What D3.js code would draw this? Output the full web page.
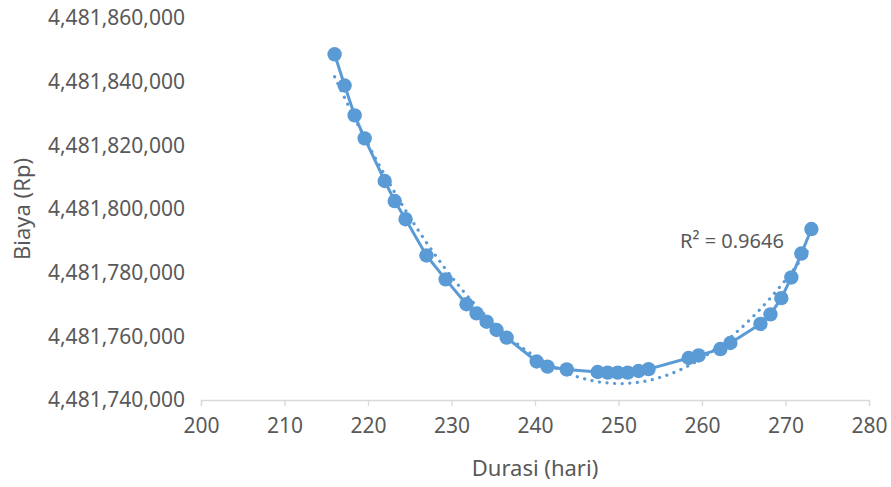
<!DOCTYPE html>
<html>
<head>
<meta charset="utf-8">
<script src="https://cdn.jsdelivr.net/npm/d3@7"></script>
<style>
  html, body { margin: 0; padding: 0; background: #fff; }
  text { font-family: "Noto Sans", "Open Sans", sans-serif; fill: #595959; }
</style>
</head>
<body>
<svg id="chart" width="891" height="487"></svg>
<script>
// ---- data ----
const durasi = [216.0, 217.2, 218.4, 219.6, 222.0, 223.2, 224.5, 227.0, 229.3, 231.8,
                233.0, 234.2, 235.4, 236.6, 240.2, 241.5, 243.8, 247.5, 248.7, 249.9,
                251.1, 252.4, 253.6, 258.4, 259.6, 262.2, 263.4, 267.0, 268.2, 269.5,
                270.7, 271.9, 273.1];
const biaya = [4481848600, 4481838800, 4481829400, 4481822200, 4481808800, 4481802500,
               4481796800, 4481785400, 4481777900, 4481770100, 4481767200, 4481764600,
               4481762000, 4481759600, 4481752100, 4481750500, 4481749600, 4481748800,
               4481748600, 4481748600, 4481748600, 4481749100, 4481749700, 4481753200,
               4481754000, 4481756000, 4481757900, 4481763900, 4481766900, 4481772000,
               4481778500, 4481786000, 4481793700];
const xTicks = [200, 210, 220, 230, 240, 250, 260, 270, 280];
const yTicks = [4481740000, 4481760000, 4481780000, 4481800000, 4481820000, 4481840000, 4481860000];
const xTitle = "Durasi (hari)";
const yTitle = "Biaya (Rp)";
const r2Label = "R² = 0.9646";

const W = 891, H = 487;
const margin = { left: 201, right: 22, top: 18, bottom: 87 };
const svg = d3.select("#chart");

const x = d3.scaleLinear().domain([200, 280]).range([margin.left, W - margin.right]);
const y = d3.scaleLinear().domain([4481740000, 4481860000]).range([H - margin.bottom, margin.top]);

const color = "#5B9BD5";
const fmt = d3.format(",");

// x axis
const xAxis = svg.append("g")
  .attr("transform", `translate(0,${H - margin.bottom})`)
  .call(d3.axisBottom(x).tickValues(xTicks).tickSize(6).tickPadding(12).tickFormat(d3.format("d")));
xAxis.select(".domain").attr("stroke", "#D9D9D9").attr("stroke-width", 1.3);
xAxis.selectAll(".tick line").attr("stroke", "#D9D9D9").attr("stroke-width", 1.3);
xAxis.selectAll(".tick text").attr("font-size", 21).attr("fill", "#595959")
  .style("font-family", '"Noto Sans", sans-serif');

// y axis (labels only)
const yAxis = svg.append("g")
  .attr("transform", `translate(${margin.left},0)`)
  .call(d3.axisLeft(y).tickValues(yTicks).tickSize(0).tickPadding(16).tickFormat(fmt));
yAxis.select(".domain").remove();
yAxis.selectAll(".tick text").attr("font-size", 21).attr("fill", "#595959")
  .style("font-family", '"Noto Sans", sans-serif');

// titles
svg.append("text").attr("x", (margin.left + W - margin.right) / 2).attr("y", 476)
  .attr("text-anchor", "middle").attr("font-size", 22).text(xTitle);
svg.append("text").attr("transform", `translate(30,${(margin.top + H - margin.bottom) / 2}) rotate(-90)`)
  .attr("text-anchor", "middle").attr("font-size", 22).text(yTitle);

// polynomial (order 2) trendline by least squares
const x0 = 245, y0 = 4481740000;
let S = [0,0,0,0,0], T = [0,0,0];
durasi.forEach((xv, i) => {
  const u = xv - x0, v = biaya[i] - y0;
  for (let k = 0; k < 5; k++) S[k] += Math.pow(u, k);
  for (let k = 0; k < 3; k++) T[k] += v * Math.pow(u, k);
});
function solve3(A, b) {
  const M = A.map((r, i) => r.concat([b[i]]));
  for (let c = 0; c < 3; c++) {
    let p = c;
    for (let r = c + 1; r < 3; r++) if (Math.abs(M[r][c]) > Math.abs(M[p][c])) p = r;
    [M[c], M[p]] = [M[p], M[c]];
    for (let r = 0; r < 3; r++) if (r !== c) {
      const f = M[r][c] / M[c][c];
      for (let k = c; k < 4; k++) M[r][k] -= f * M[c][k];
    }
  }
  return M.map((r, i) => r[3] / r[i]);
}
const coef = solve3([[S[0], S[1], S[2]], [S[1], S[2], S[3]], [S[2], S[3], S[4]]], T);
const fit = xv => { const u = xv - x0; return y0 + coef[0] + coef[1] * u + coef[2] * u * u; };
const xmin = d3.min(durasi), xmax = d3.max(durasi);
const trend = d3.range(0, 101).map(i => { const xv = xmin + (xmax - xmin) * i / 100; return [xv, fit(xv)]; });

svg.append("path")
  .datum(trend)
  .attr("fill", "none").attr("stroke", color).attr("stroke-width", 3.2)
  .attr("stroke-linecap", "round").attr("stroke-dasharray", "0.1 7.5")
  .attr("d", d3.line().x(d => x(d[0])).y(d => y(d[1])));

// series line
const pts = durasi.map((d, i) => [d, biaya[i]]);
svg.append("path")
  .datum(pts)
  .attr("fill", "none").attr("stroke", color).attr("stroke-width", 3)
  .attr("stroke-linejoin", "round")
  .attr("d", d3.line().x(d => x(d[0])).y(d => y(d[1])));

// markers
svg.append("g").selectAll("circle").data(pts).join("circle")
  .attr("cx", d => x(d[0])).attr("cy", d => y(d[1])).attr("r", 7.2)
  .attr("fill", color);

// R² label
svg.append("text").attr("x", 680).attr("y", 248).attr("font-size", 20).text(r2Label);
</script>
</body>
</html>
